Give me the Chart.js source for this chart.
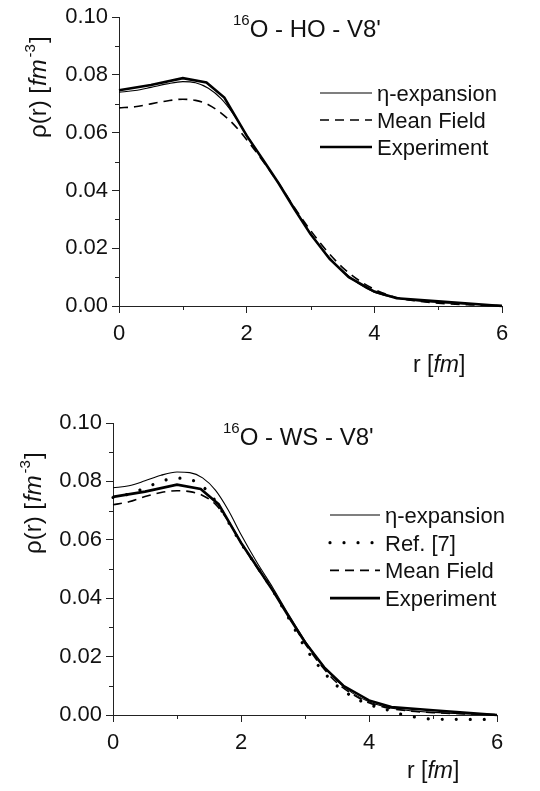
<!DOCTYPE html>
<html>
<head>
<meta charset="utf-8">
<script src="https://cdn.jsdelivr.net/npm/chart.js@4.4.0/dist/chart.umd.min.js"></script>
<style>
  html, body { margin: 0; padding: 0; background: #fff; }
  body { width: 540px; height: 791px; position: relative; overflow: hidden; }
  canvas { position: absolute; left: 0; }
  #topChart { top: 0; }
  #bottomChart { top: 400px; }
</style>
</head>
<body>
<canvas id="topChart" width="540" height="395"></canvas>
<canvas id="bottomChart" width="540" height="391"></canvas>
<script>
// r grid (fm) used for the smooth calculated curves
const rGrid = [0, 0.25, 0.5, 0.75, 1.0, 1.2, 1.4, 1.6, 1.8, 2.0, 2.25, 2.5, 2.75, 3.0, 3.25, 3.5, 3.75, 4.0, 4.25, 4.5, 5.0, 5.5, 6.0];

// Experimental density (same in both panels)
const expR   = [0, 0.5, 1.0, 1.37, 1.65, 2.0, 2.25, 2.5, 2.75, 3.0, 3.3, 3.6, 4.0, 4.35, 5.0, 6.0];
const expRho = [0.0747, 0.0765, 0.0789, 0.0774, 0.0722, 0.0590, 0.0508, 0.0425, 0.0335, 0.0249, 0.0163, 0.0100, 0.0050, 0.0027, 0.0016, 0.0000];

// Top panel: 16O - HO - V8'
const etaTopRho = [0.0740, 0.0746, 0.0757, 0.0769, 0.0777, 0.0773, 0.0754, 0.0718, 0.0662, 0.0592, 0.0508, 0.0425, 0.0337, 0.0252, 0.0180, 0.0122, 0.0078, 0.0048, 0.0032, 0.0022, 0.0012, 0.0006, 0.0002];
const mfTopRho  = [0.0686, 0.0690, 0.0700, 0.0710, 0.0716, 0.0712, 0.0697, 0.0668, 0.0628, 0.0576, 0.0503, 0.0425, 0.0340, 0.0262, 0.0192, 0.0134, 0.0090, 0.0058, 0.0036, 0.0023, 0.0010, 0.0004, 0.0001];

// Bottom panel: 16O - WS - V8'
const etaBotRho = [0.0778, 0.0785, 0.0802, 0.0821, 0.0832, 0.0830, 0.0812, 0.0770, 0.0702, 0.0618, 0.0522, 0.0435, 0.0342, 0.0254, 0.0178, 0.0117, 0.0074, 0.0045, 0.0028, 0.0018, 0.0009, 0.0004, 0.0001];
const refBotRho = [0.0745, 0.0757, 0.0777, 0.0800, 0.0811, 0.0807, 0.0783, 0.0733, 0.0662, 0.0588, 0.0508, 0.0425, 0.0330, 0.0232, 0.0158, 0.0100, 0.0062, 0.0036, 0.0020, 0.0003, -0.0014, -0.0015, -0.0015];
const mfBotRho  = [0.0720, 0.0730, 0.0748, 0.0762, 0.0768, 0.0765, 0.0752, 0.0722, 0.0665, 0.0590, 0.0505, 0.0425, 0.0335, 0.0245, 0.0170, 0.0110, 0.0070, 0.0042, 0.0026, 0.0017, 0.0008, 0.0004, 0.0001];

// Axis ticks
const xMajor = [0, 2, 4, 6];
const xMinor = [1, 3, 5];
const yMajor = [0, 0.02, 0.04, 0.06, 0.08, 0.10];
const yMinor = [0.01, 0.03, 0.05, 0.07, 0.09];

const FONT = '"Liberation Sans", Arial, sans-serif';
const INK = '#111';

// line styles for the four curve types
const styles = {
    eta: { borderWidth: 1.1, cubicInterpolationMode: 'monotone' },
    ref: { borderWidth: 3.2, borderDash: [0.01, 14], borderCapStyle: 'round', cubicInterpolationMode: 'monotone' },
    mf:  { borderWidth: 1.6, borderDash: [9, 6], cubicInterpolationMode: 'monotone' },
    exp: { borderWidth: 2.6, tension: 0 }
};

function series(label, rs, vals, style) {
    return Object.assign({
        label: label,
        data: rs.map((r, i) => ({ x: r, y: vals[i] })),
        borderColor: '#000',
        pointRadius: 0,
        fill: false,
        clip: false
    }, style);
}

// draw a run of text pieces with their own size / italic / raise
function drawRich(ctx, x, y, parts) {
    let cx = x;
    parts.forEach(p => {
        ctx.font = (p.italic ? 'italic ' : '') + p.size + 'px ' + FONT;
        ctx.fillText(p.text, cx, y + (p.dy || 0));
        cx += ctx.measureText(p.text).width + (p.gap || 0);
    });
}

// minor ticks, titles and the legend
const decor = {
    id: 'decor',
    afterDraw(chart, args, opts) {
        const { ctx, scales: { x, y } } = chart;
        ctx.save();

        // minor ticks
        ctx.strokeStyle = '#222';
        ctx.lineWidth = 1;
        ctx.setLineDash([]);
        ctx.beginPath();
        xMinor.forEach(v => {
            const px = Math.round(x.getPixelForValue(v)) + 0.5;
            ctx.moveTo(px, y.bottom);
            ctx.lineTo(px, y.bottom + 4);
        });
        yMinor.forEach(v => {
            const py = Math.round(y.getPixelForValue(v)) + 0.5;
            ctx.moveTo(x.left, py);
            ctx.lineTo(x.left - 4, py);
        });
        ctx.stroke();

        ctx.fillStyle = INK;
        ctx.textAlign = 'left';
        ctx.textBaseline = 'alphabetic';

        // panel title with superscript mass number
        drawRich(ctx, opts.title.x, opts.title.y, [
            { text: '16', size: 15, dy: -12 },
            { text: opts.title.text, size: 24 }
        ]);

        // x axis title
        drawRich(ctx, opts.xTitle.x, opts.xTitle.y, [
            { text: 'r [', size: 23 },
            { text: 'fm', size: 23, italic: true },
            { text: ']', size: 23 }
        ]);

        // y axis title, rotated
        ctx.translate(opts.yTitle.x, opts.yTitle.y);
        ctx.rotate(-Math.PI / 2);
        drawRich(ctx, 0, 0, [
            { text: '\u03c1(r) [', size: 24, gap: 1 },
            { text: 'fm', size: 24, italic: true, gap: 2 },
            { text: '-3', size: 15, dy: -11, gap: 1 },
            { text: ']', size: 24 }
        ]);
        ctx.setTransform(1, 0, 0, 1, 0, 0);

        // legend
        const lg = opts.legend;
        lg.items.forEach((item, i) => {
            const ds = chart.data.datasets[item.index];
            const cy = lg.y + i * lg.step;
            ctx.strokeStyle = '#000';
            ctx.lineWidth = ds.borderWidth;
            ctx.lineCap = ds.borderCapStyle || 'butt';
            ctx.setLineDash(ds.borderDash || []);
            ctx.beginPath();
            ctx.moveTo(lg.x0, cy);
            ctx.lineTo(lg.x1, cy);
            ctx.stroke();
            ctx.font = '22px ' + FONT;
            ctx.fillText(ds.label, lg.tx, cy + 8);
        });

        ctx.restore();
    }
};

function makeChart(id, datasets, yWidth, padding, decorOpts) {
    return new Chart(document.getElementById(id), {
        type: 'line',
        data: { datasets: datasets },
        options: {
            responsive: false,
            animation: false,
            devicePixelRatio: 1,
            layout: { padding: padding },
            plugins: {
                legend: { display: false },
                tooltip: { enabled: false },
                decor: decorOpts
            },
            scales: {
                x: {
                    type: 'linear',
                    min: 0,
                    max: 6,
                    afterBuildTicks: s => { s.ticks = xMajor.map(v => ({ value: v })); },
                    afterFit: s => { s.height = 45; },
                    ticks: {
                        color: INK,
                        font: { family: FONT, size: 22 },
                        padding: 8,
                        maxRotation: 0,
                        callback: v => String(v)
                    },
                    grid: { drawOnChartArea: false, drawTicks: true, tickLength: 7, tickColor: '#222' },
                    border: { display: true, color: '#222', width: 1 }
                },
                y: {
                    min: 0,
                    max: 0.1,
                    afterBuildTicks: s => { s.ticks = yMajor.map(v => ({ value: v })); },
                    afterFit: s => { s.width = yWidth; },
                    ticks: {
                        color: INK,
                        font: { family: FONT, size: 22 },
                        padding: 4,
                        callback: v => Number(v).toFixed(2)
                    },
                    grid: { drawOnChartArea: false, drawTicks: true, tickLength: 7, tickColor: '#222' },
                    border: { display: true, color: '#222', width: 1 }
                }
            }
        },
        plugins: [decor]
    });
}

document.addEventListener('DOMContentLoaded', () => {
    // top panel
    makeChart('topChart', [
        series('Experiment', expR, expRho, styles.exp),
        series('\u03b7-expansion', rGrid, etaTopRho, styles.eta),
        series('Mean Field', rGrid, mfTopRho, styles.mf)
    ], 119, { left: 0, top: 14, right: 38, bottom: 44 }, {
        title: { text: 'O - HO - V8\'', x: 233, y: 37 },
        xTitle: { x: 413, y: 372 },
        yTitle: { x: 46, y: 138 },
        legend: { x0: 320, x1: 372, tx: 377, y: 93, step: 27, items: [{ index: 1 }, { index: 2 }, { index: 0 }] }
    });

    // bottom panel
    makeChart('bottomChart', [
        series('Experiment', expR, expRho, styles.exp),
        series('\u03b7-expansion', rGrid, etaBotRho, styles.eta),
        series('Ref. [7]', rGrid, refBotRho, styles.ref),
        series('Mean Field', rGrid, mfBotRho, styles.mf)
    ], 113, { left: 0, top: 23, right: 43, bottom: 31 }, {
        title: { text: 'O - WS - V8\'', x: 223, y: 45 },
        xTitle: { x: 407, y: 378 },
        yTitle: { x: 41, y: 154 },
        legend: { x0: 330, x1: 380, tx: 385, y: 115, step: 27.7, items: [{ index: 1 }, { index: 2 }, { index: 3 }, { index: 0 }] }
    });
});
</script>
</body>
</html>
